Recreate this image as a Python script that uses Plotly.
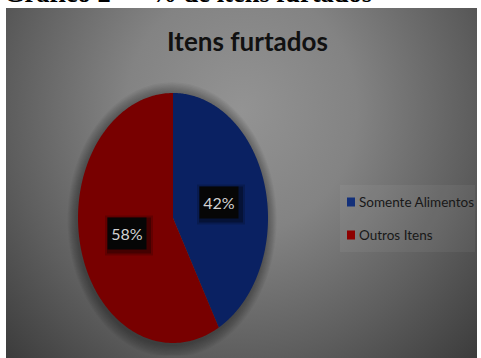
import numpy as np
import plotly.graph_objects as go

# ---- data ----
categories = ["Somente Alimentos", "Outros Itens"]
values = [42, 58]
slice_colors = ["#0a2162", "#780000"]
legend_colors = ["#13307a", "#8e0000"]
title_text = "Itens furtados"
caption_text = "Gráfico 2 — % de itens furtados"

W, H = 481, 358


def px(x):
    return x / W


def py(y):
    return 1 - y / H


fig = go.Figure()

# ---- background panel with radial gradient (subplot x/y) ----
bx = [-0.2, 1.2, 1.2, -0.2, -0.2]
by = [-0.3, -0.3, 1.72, 1.72, -0.3]
fig.add_trace(go.Scatter(
    x=bx, y=by, fill="toself", mode="none",
    fillgradient=dict(type="radial",
                      colorscale=[[0, "#939393"], [0.35, "#838383"],
                                  [0.7, "#5e5e5e"], [1, "#3c3c3c"]]),
    hoverinfo="skip", showlegend=False, xaxis="x", yaxis="y"))

# ---- pie (stretched, subplot x2/y2) ----
cx, cy, rx, ry = 173, 218, 95, 125
xr = [-1.15, 1.15]
yr = [-1.1, 1.15]

# soft shadow around the pie
t_full = np.linspace(0, 2 * np.pi, 200)
for k in range(10):
    s = 1.10 - k * 0.01
    fig.add_trace(go.Scatter(
        x=s * np.sin(t_full) - 0.01, y=s * np.cos(t_full) - 0.015,
        fill="toself", mode="none",
        fillcolor="rgba(0,0,0,0.035)", hoverinfo="skip", showlegend=False,
        xaxis="x2", yaxis="y2"))

total = sum(values)
start = 0.0
label_pos = []
for cat, v, c in zip(categories, values, slice_colors):
    a0 = start / total * 2 * np.pi
    a1 = (start + v) / total * 2 * np.pi
    t = np.linspace(a0, a1, 240)
    xs = np.concatenate([[0], np.sin(t), [0]])
    ys = np.concatenate([[0], np.cos(t), [0]])
    fig.add_trace(go.Scatter(
        x=xs, y=ys, fill="toself", mode="none", fillcolor=c, name=cat,
        hoverinfo="name", showlegend=False, xaxis="x2", yaxis="y2"))
    mid = (a0 + a1) / 2
    label_pos.append((0.5 * np.sin(mid), 0.5 * np.cos(mid),
                      f"{round(v / total * 100)}%"))
    start += v

shapes = []
annotations = []

# value labels (dark boxes with soft shadow)
for lx, ly, txt in label_pos:
    for pad, a in [(24, 0.18), (22, 0.3)]:
        shapes.append(dict(
            type="rect", xref="x2", yref="y2", xsizemode="pixel",
            ysizemode="pixel", xanchor=lx, yanchor=ly,
            x0=-pad + 2, x1=pad + 2, y0=-pad + 4 - 2, y1=pad - 4 - 2,
            fillcolor=f"rgba(0,0,0,{a})", line=dict(width=0), layer="above"))
    annotations.append(dict(
        x=lx, y=ly, xref="x2", yref="y2", text=txt, showarrow=False,
        width=38, height=31, bgcolor="#060606", borderpad=0,
        font=dict(family="Lato", size=16, color="#d2d2d2")))

# custom legend
shapes.append(dict(type="rect", xref="paper", yref="paper",
                   x0=px(340), x1=px(475), y0=py(252), y1=py(185),
                   fillcolor="rgba(255,255,255,0.05)", line=dict(width=0),
                   layer="above"))
for i, (cat, col) in enumerate(zip(categories, legend_colors)):
    yc = 202 + i * 33
    shapes.append(dict(type="rect", xref="paper", yref="paper",
                       x0=px(347), x1=px(355), y0=py(yc + 4.5), y1=py(yc - 4.5),
                       fillcolor=col, line=dict(width=0), layer="above"))
    annotations.append(dict(x=px(357), y=py(yc), xref="paper", yref="paper",
                            xanchor="left", yanchor="middle", text=cat,
                            showarrow=False,
                            font=dict(family="Lato", size=13.5, color="#181818")))

# chart title
annotations.append(dict(x=px(247), y=py(41), xref="paper", yref="paper",
                        xanchor="center", yanchor="middle",
                        text=f"<b>{title_text}</b>", showarrow=False,
                        font=dict(family="Lato", size=26, color="#111111")))

# document caption (cut at top of page, as in the scan)
annotations.append(dict(x=px(2), y=py(-7), xref="paper", yref="paper",
                        xanchor="left", yanchor="middle",
                        text=f"<b>{caption_text}</b>", showarrow=False,
                        font=dict(family="Liberation Serif", size=26.5,
                                  color="#000000")))

ax_common = dict(visible=False, fixedrange=True, showgrid=False, zeroline=False)

fig.update_layout(
    width=W, height=H, autosize=False,
    margin=dict(l=0, r=0, t=0, b=0, pad=0),
    paper_bgcolor="white", plot_bgcolor="rgba(0,0,0,0)",
    showlegend=False,
    xaxis=dict(domain=[px(6), px(477)], range=[0, 1], **ax_common),
    yaxis=dict(domain=[0, py(8)], range=[0, 1], **ax_common),
    xaxis2=dict(domain=[px(cx + rx * xr[0]), px(cx + rx * xr[1])],
                range=xr, anchor="y2", **ax_common),
    yaxis2=dict(domain=[py(cy - ry * yr[0]), py(cy - ry * yr[1])],
                range=yr, anchor="x2", **ax_common),
    shapes=shapes,
    annotations=annotations,
)

fig.write_html("out.html")
